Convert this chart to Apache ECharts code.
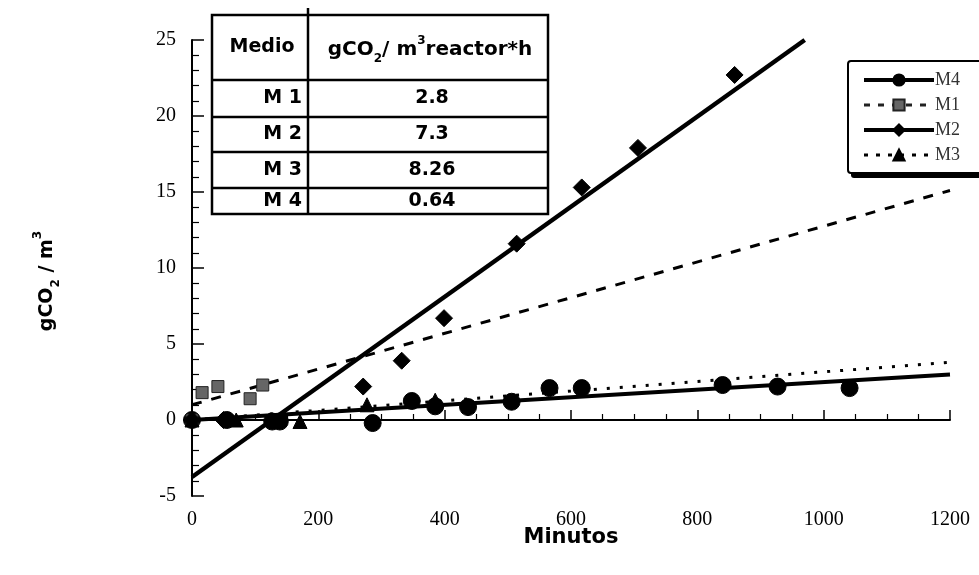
<!DOCTYPE html>
<html>
<head>
<meta charset="utf-8">
<script src="https://cdn.jsdelivr.net/npm/echarts@6/dist/echarts.min.js"></script>
<style>html,body{margin:0;padding:0;background:#fff}#c{width:979px;height:575px}</style>
</head>
<body>
<div id="c"></div>
<script>
// ---- data ----
const seriesNames = ['M4', 'M1', 'M2', 'M3'];
const pointsM4 = [[0,0],[55,0],[127,-0.1],[139,-0.1],[286,-0.2],[348,1.25],[385,0.9],[437,0.85],[506,1.2],[566,2.1],[617,2.1],[840,2.3],[927,2.2],[1041,2.1]];
const pointsM1 = [[0,0],[16,1.8],[41,2.2],[92,1.4],[112,2.3]];
const pointsM2 = [[0,0],[50,0],[271,2.2],[332,3.9],[399,6.7],[514,11.6],[617,15.3],[706,17.9],[859,22.7]];
const pointsM3 = [[0,0],[70,0],[171,-0.1],[277,1.0],[385,1.3]];
const fitM4 = [[0,0.0],[1200,3.0]];
const fitM1 = [[0,1.0],[1200,15.1]];
const fitM2 = [[0,-3.75],[970,25]];
const fitM3 = [[0,0.0],[1200,3.8]];
const tableHeader = ['Medio', 'gCO2/m3reactor*h'];
const tableMedio = ['M 1', 'M 2', 'M 3', 'M 4'];
const tableRates = ['2.8', '7.3', '8.26', '0.64'];
const xMin = 0, xMax = 1200, xStep = 200;
const yMin = -5, yMax = 25, yStep = 5;

// ---- chart ----
const chart = echarts.init(document.getElementById('c'));
const serif = 'Liberation Serif';
const sans = 'DejaVu Sans';

function pointSeries(name, data, symbol, size, color, border) {
  return {
    name: name, type: 'line', data: data, symbol: symbol, symbolSize: size,
    lineStyle: { opacity: 0 }, itemStyle: { color: color, borderColor: border || color, borderWidth: 1 },
    z: 4, animation: false
  };
}
function fitSeries(data, width, type) {
  return {
    type: 'line', data: data, symbol: 'none', silent: true,
    lineStyle: { color: '#000', width: width, type: type }, z: 3, animation: false
  };
}

// table graphics
const tX = 212, tY = 15, tW = 336, tDiv = 308;
const rowBounds = [15, 80, 117, 152, 188, 214];
const tableEls = [];
tableEls.push({ type: 'rect', shape: { x: tX, y: tY, width: tW, height: rowBounds[5] - tY }, style: { fill: '#fff', stroke: '#000', lineWidth: 2.5 } });
tableEls.push({ type: 'line', shape: { x1: tDiv, y1: 8, x2: tDiv, y2: rowBounds[5] }, style: { stroke: '#000', lineWidth: 2.5 } });
for (let i = 1; i < 5; i++) {
  tableEls.push({ type: 'line', shape: { x1: tX, y1: rowBounds[i], x2: tX + tW, y2: rowBounds[i] }, style: { stroke: '#000', lineWidth: 2.5 } });
}
tableEls.push({ type: 'text', x: 262, y: 47, style: { text: tableHeader[0], font: 'bold 19px "DejaVu Sans"', fill: '#000', align: 'center', verticalAlign: 'middle' } });
tableEls.push({ type: 'text', x: 430, y: 50, style: {
  text: '{b|gCO}{sub|2}{b|/ m}{sup|3}{b|reactor*h}', align: 'center', verticalAlign: 'middle',
  rich: {
    b: { font: 'bold 20px "DejaVu Sans"', fill: '#000', lineHeight: 30 },
    sub: { font: 'bold 12px "DejaVu Sans"', fill: '#000', verticalAlign: 'bottom', lineHeight: 12 },
    sup: { font: 'bold 12px "DejaVu Sans"', fill: '#000', verticalAlign: 'top', lineHeight: 12 }
  }
} });
for (let i = 0; i < 4; i++) {
  const cy = (rowBounds[i + 1] + rowBounds[i + 2]) / 2;
  tableEls.push({ type: 'text', x: 302, y: cy, style: { text: tableMedio[i], font: 'bold 19px "DejaVu Sans"', fill: '#000', align: 'right', verticalAlign: 'middle' } });
  tableEls.push({ type: 'text', x: 432, y: cy, style: { text: tableRates[i], font: 'bold 19px "DejaVu Sans"', fill: '#000', align: 'center', verticalAlign: 'middle' } });
}

const option = {
  backgroundColor: '#fff',
  animation: false,
  grid: { left: 192, right: 29, top: 40, bottom: 79 },
  xAxis: {
    type: 'value', min: xMin, max: xMax, interval: xStep,
    name: 'Minutos', nameLocation: 'middle', nameGap: 31, nameMoveOverlap: false,
    nameTextStyle: { fontFamily: sans, fontWeight: 'bold', fontSize: 21, color: '#000' },
    axisLine: { show: true, lineStyle: { color: '#000', width: 2 } },
    axisTick: { show: true, inside: true, length: 10, lineStyle: { color: '#000', width: 1.5 } },
    minorTick: { show: true, splitNumber: 4, length: 6, lineStyle: { color: '#000', width: 1.2 } },
    axisLabel: { fontFamily: serif, fontSize: 20, color: '#000', margin: 14, formatter: v => String(v) },
    splitLine: { show: false }
  },
  yAxis: {
    type: 'value', min: yMin, max: yMax, interval: yStep,
    name: '{a|gCO}{s|2}{a| / m}{p|3}', nameLocation: 'middle', nameGap: 130, nameRotate: 90,
    nameTextStyle: {
      padding: [0, 26, 0, 0],
      rich: {
        a: { fontFamily: sans, fontWeight: 'bold', fontSize: 19, color: '#000', lineHeight: 30 },
        s: { fontFamily: sans, fontWeight: 'bold', fontSize: 12, color: '#000', verticalAlign: 'bottom', lineHeight: 12 },
        p: { fontFamily: sans, fontWeight: 'bold', fontSize: 12, color: '#000', verticalAlign: 'top', lineHeight: 12 }
      }
    },
    axisLine: { show: true, lineStyle: { color: '#000', width: 2 } },
    axisTick: { show: true, inside: true, length: 12, lineStyle: { color: '#000', width: 1.5 } },
    minorTick: { show: true, splitNumber: 5, length: 7, lineStyle: { color: '#000', width: 1.2 } },
    axisLabel: { fontFamily: serif, fontSize: 20, color: '#000', margin: 16 },
    splitLine: { show: false }
  },
  legend: {
    orient: 'vertical', left: 848, top: 61, z: 10,
    itemWidth: 70, itemHeight: 14, itemGap: 7,
    padding: [10, 30, 10, 14],
    backgroundColor: 'transparent', borderWidth: 0,
    textStyle: { fontFamily: serif, fontSize: 18, color: '#333', padding: [0, 0, 0, -4] },
    data: [
      { name: 'M4', lineStyle: { opacity: 1, width: 4, type: 'solid', color: '#000' } },
      { name: 'M1', lineStyle: { opacity: 1, width: 3, type: [6, 8], color: '#222' } },
      { name: 'M2', lineStyle: { opacity: 1, width: 4, type: 'solid', color: '#000' } },
      { name: 'M3', lineStyle: { opacity: 1, width: 3, type: [4, 8], color: '#000' } }
    ]
  },
  graphic: [
    { type: 'group', z: 100, children: tableEls },
    { type: 'rect', z: 5, shape: { x: 851, y: 66, width: 160, height: 112, r: 3 }, style: { fill: '#000' } },
    { type: 'rect', z: 6, shape: { x: 848, y: 61, width: 160, height: 112, r: 3 }, style: { fill: '#fff', stroke: '#000', lineWidth: 2 } }
  ],
  series: [
    pointSeries(seriesNames[0], pointsM4, 'circle', 17, '#000'),
    pointSeries(seriesNames[1], pointsM1, 'rect', 12, '#666', '#222'),
    pointSeries(seriesNames[2], pointsM2, 'diamond', 17, '#000'),
    pointSeries(seriesNames[3], pointsM3, 'triangle', 14, '#000'),
    fitSeries(fitM4, 4, 'solid'),
    fitSeries(fitM1, 3, [10, 10]),
    fitSeries(fitM2, 4.5, 'solid'),
    fitSeries(fitM3, 3, [3, 10])
  ]
};
chart.setOption(option);
</script>
</body>
</html>
